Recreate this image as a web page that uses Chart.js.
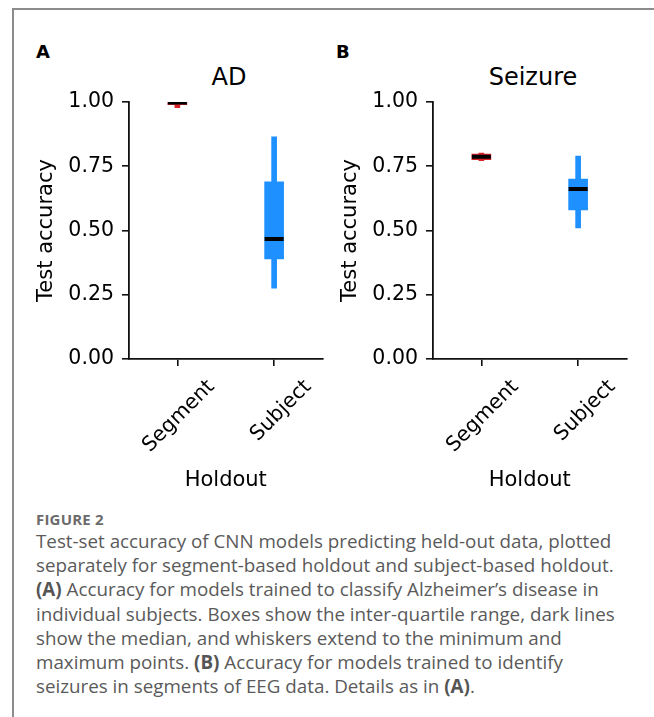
<!DOCTYPE html>
<html>
<head>
<meta charset="utf-8">
<script src="https://cdn.jsdelivr.net/npm/chart.js@4.4.0/dist/chart.umd.min.js"></script>
<style>
  html, body { margin: 0; padding: 0; background: #fff; }
  body { width: 654px; height: 717px; position: relative; overflow: hidden; }
  .frame { position: absolute; left: 12px; top: 8px; right: -4px; bottom: -4px; border-left: 2px solid #8c8c8c; border-top: 2px solid #8c8c8c; }
  .panel { position: absolute; top: 60px; width: 320px; height: 440px; }
  .letter { position: absolute; top: 41px; font: bold 18px "DejaVu Sans", sans-serif; color: #000; }
  .title { position: absolute; top: 63px; width: 200px; text-align: center; font: 24px "DejaVu Sans", sans-serif; color: #000; }
  .fig { position: absolute; left: 36px; top: 509px; font: bold 15px "Open Sans", sans-serif; color: #6b6b6b; letter-spacing: 0.2px; }
  .caption { position: absolute; left: 36px; top: 529px; font: 18.8px/24.2px "Open Sans", sans-serif; color: #5a5a5a; white-space: nowrap; }
  .caption b { color: #555; }
</style>
</head>
<body>
<div class="frame"></div>
<div class="letter" style="left:36px">A</div>
<div class="letter" style="left:336px">B</div>
<div class="title" style="left:129px">AD</div>
<div class="title" style="left:433px">Seizure</div>
<div class="panel" style="left:16px"><canvas id="chartA"></canvas></div>
<div class="panel" style="left:320px"><canvas id="chartB"></canvas></div>
<div class="fig">FIGURE 2</div>
<div class="caption">
Test-set accuracy of CNN models predicting held-out data, plotted<br>
separately for segment-based holdout and subject-based holdout.<br>
<b>(A)</b> Accuracy for models trained to classify Alzheimer’s disease in<br>
individual subjects. Boxes show the inter-quartile range, dark lines<br>
show the median, and whiskers extend to the minimum and<br>
maximum points. <b>(B)</b> Accuracy for models trained to identify<br>
seizures in segments of EEG data. Details as in <b>(A)</b>.
</div>
<script>
// categories and box statistics
const holdouts = ['Segment', 'Subject'];
const yTicks = [0, 0.25, 0.5, 0.75, 1.0];
const boxColors = ['#d8232a', '#1e90ff'];

// panel A (AD)
const adMin = [0.978, 0.276];
const adQ1 = [0.990, 0.389];
const adMedian = [0.998, 0.467];
const adQ3 = [1.0, 0.689];
const adMax = [1.0, 0.864];

// panel B (Seizure)
const szMin = [0.772, 0.510];
const szQ1 = [0.776, 0.580];
const szMedian = [0.787, 0.661];
const szQ3 = [0.797, 0.700];
const szMax = [0.801, 0.790];

const tickFont = { family: 'DejaVu Sans', size: 20.5 };
const labelFont = { family: 'DejaVu Sans', size: 21 };
const ink = '#111';

function makeBoxChart(id, mins, q1s, meds, q3s, maxs) {
  const ctx = document.getElementById(id).getContext('2d');
  return new Chart(ctx, {
    type: 'bar',
    data: {
      labels: holdouts,
      datasets: [
        {
          type: 'line',
          data: meds,
          showLine: false,
          pointStyle: 'line',
          pointRadius: 9.5,
          pointBorderWidth: 4,
          borderColor: '#000',
          pointBorderColor: '#000',
          order: 0
        },
        {
          data: holdouts.map((_, i) => [q1s[i], q3s[i]]),
          backgroundColor: boxColors,
          barThickness: 19,
          grouped: false,
          order: 1
        },
        {
          data: holdouts.map((_, i) => [mins[i], maxs[i]]),
          backgroundColor: boxColors,
          barThickness: 5,
          grouped: false,
          order: 2
        }
      ]
    },
    options: {
      responsive: true,
      maintainAspectRatio: false,
      animation: false,
      layout: { padding: { top: 42, right: 7, left: 0, bottom: 0 } },
      plugins: {
        legend: { display: false },
        tooltip: { enabled: false }
      },
      scales: {
        x: {
          offset: true,
          grid: { display: true, offset: false, drawOnChartArea: false, tickLength: 7, tickColor: ink, lineWidth: 1.6 },
          border: { display: true, color: ink, width: 1.8 },
          ticks: { color: '#000', font: tickFont, minRotation: 45, maxRotation: 45, padding: 9, labelOffset: 34 },
          title: { display: true, text: 'Holdout', color: '#000', font: labelFont, padding: { top: 0, bottom: 7 } },
          afterFit: s => { s.height = 141; }
        },
        y: {
          min: 0,
          max: 1,
          afterBuildTicks: s => { s.ticks = yTicks.map(v => ({ value: v })); },
          grid: { display: true, drawOnChartArea: false, tickLength: 7, tickColor: ink, lineWidth: 1.6 },
          border: { display: true, color: ink, width: 1.8 },
          ticks: { color: '#000', font: tickFont, padding: 8, callback: v => v.toFixed(2) },
          title: { display: true, text: 'Test accuracy', color: '#000', font: labelFont, padding: { top: 18, bottom: 0 } },
          afterFit: s => { s.width = 113; }
        }
      }
    }
  });
}

makeBoxChart('chartA', adMin, adQ1, adMedian, adQ3, adMax);
makeBoxChart('chartB', szMin, szQ1, szMedian, szQ3, szMax);
</script>
</body>
</html>
